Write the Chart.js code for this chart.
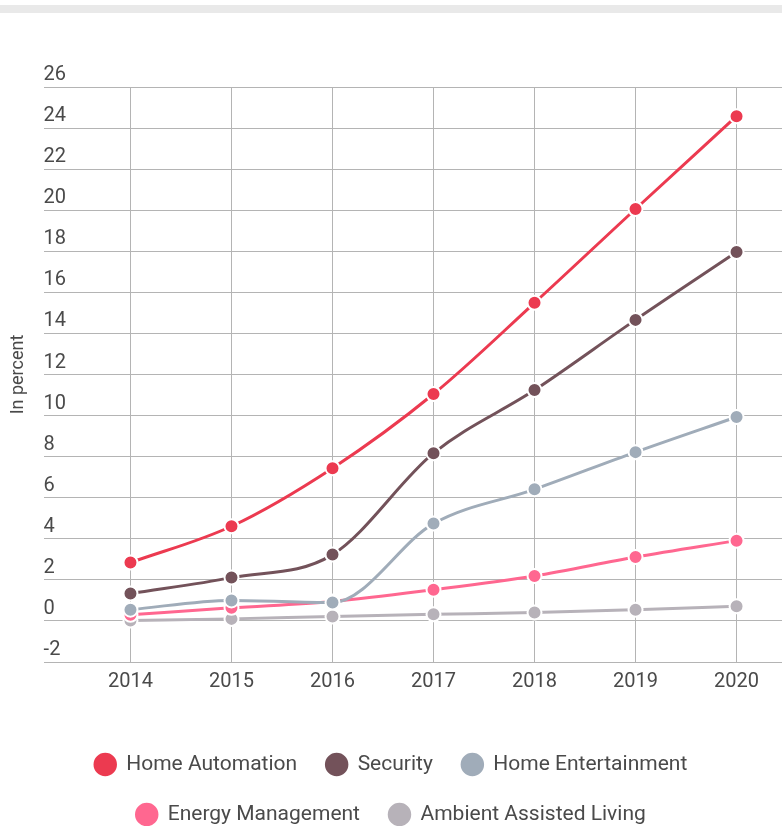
<!DOCTYPE html>
<html>
<head>
<meta charset="utf-8">
<script src="https://cdn.jsdelivr.net/npm/chart.js@4"></script>
<style>
  html, body { margin: 0; padding: 0; background: #fff; overflow: hidden; }
  #wrap { position: relative; width: 782px; height: 826px; }
  #topbar { position: absolute; left: 0; top: 5px; width: 782px; height: 8px; background: #e9e9e9; }
  canvas { display: block; }
</style>
</head>
<body>
<div id="wrap">
  <div id="topbar"></div>
  <canvas id="chart"></canvas>
</div>
<script>
const years = [2014, 2015, 2016, 2017, 2018, 2019, 2020];

const homeAutomation = [2.84, 4.61, 7.44, 11.05, 15.49, 20.06, 24.58];
const security = [1.33, 2.11, 3.23, 8.17, 11.24, 14.66, 17.96];
const homeEntertainment = [0.55, 1.0, 0.9, 4.74, 6.41, 8.22, 9.93];
const energyManagement = [0.3, 0.64, 0.95, 1.52, 2.19, 3.11, 3.91];
const ambientAssistedLiving = [0.02, 0.1, 0.22, 0.32, 0.41, 0.55, 0.71];

const seriesNames = ["Home Automation", "Security", "Home Entertainment", "Energy Management", "Ambient Assisted Living"];
const seriesValues = [homeAutomation, security, homeEntertainment, energyManagement, ambientAssistedLiving];
const seriesColors = ["#ec3a50", "#73525a", "#a0acb9", "#ff6790", "#b7b2b9"];

const yTicks = [-2, 0, 2, 4, 6, 8, 10, 12, 14, 16, 18, 20, 22, 24, 26];

const TEXT = "#4a4a4a";
const GRID = "#b4b4b4";

// pull the legend up so the second row sits at the bottom edge
const legendShift = {
  id: "legendShift",
  beforeInit(chart) {
    const fit = chart.legend.fit;
    chart.legend.fit = function () {
      fit.call(this);
      this.height -= 9;
    };
  }
};

const datasets = seriesNames.map(function (name, i) {
  return {
    label: name,
    data: years.map((y, j) => ({ x: y, y: seriesValues[i][j] })),
    borderColor: seriesColors[i],
    backgroundColor: seriesColors[i],
    pointBackgroundColor: seriesColors[i],
    pointBorderColor: "#fff",
    pointBorderWidth: 2,
    pointRadius: 7,
    borderWidth: 3,
    cubicInterpolationMode: "monotone",
    fill: false
  };
});

new Chart(document.getElementById("chart").getContext("2d"), {
  type: "line",
  data: { datasets: datasets },
  options: {
    responsive: true,
    maintainAspectRatio: false,
    animation: false,
    layout: { autoPadding: false, padding: { top: 87, left: 0, right: 0, bottom: 0 } },
    plugins: {
      tooltip: { enabled: false },
      legend: {
        position: "bottom",
        labels: {
          usePointStyle: true,
          pointStyle: "circle",
          boxHeight: 18,
          boxWidth: 21,
          padding: 29,
          color: TEXT,
          font: { family: "Roboto", size: 21 }
        }
      }
    },
    scales: {
      x: {
        type: "linear",
        min: 2013.14,
        max: 2020.45,
        afterBuildTicks: function (scale) {
          scale.ticks = years.map(v => ({ value: v }));
        },
        afterFit: function (scale) {
          scale.height = 63;
        },
        grid: { color: GRID, drawTicks: false },
        border: { display: false },
        ticks: {
          padding: 8,
          color: TEXT,
          font: { family: "Roboto", size: 20 },
          callback: v => String(v)
        }
      },
      y: {
        min: -2,
        max: 26,
        afterBuildTicks: function (scale) {
          scale.ticks = yTicks.map(v => ({ value: v }));
        },
        grid: { color: GRID, drawTicks: false },
        border: { display: false },
        title: {
          display: true,
          text: "In percent",
          color: TEXT,
          font: { family: "Roboto", size: 18 },
          padding: { top: 8, bottom: 14 }
        },
        ticks: {
          mirror: true,
          padding: 0,
          labelOffset: -12,
          color: TEXT,
          font: { family: "Roboto", size: 20 }
        }
      }
    }
  },
  plugins: [legendShift]
});
</script>
</body>
</html>
